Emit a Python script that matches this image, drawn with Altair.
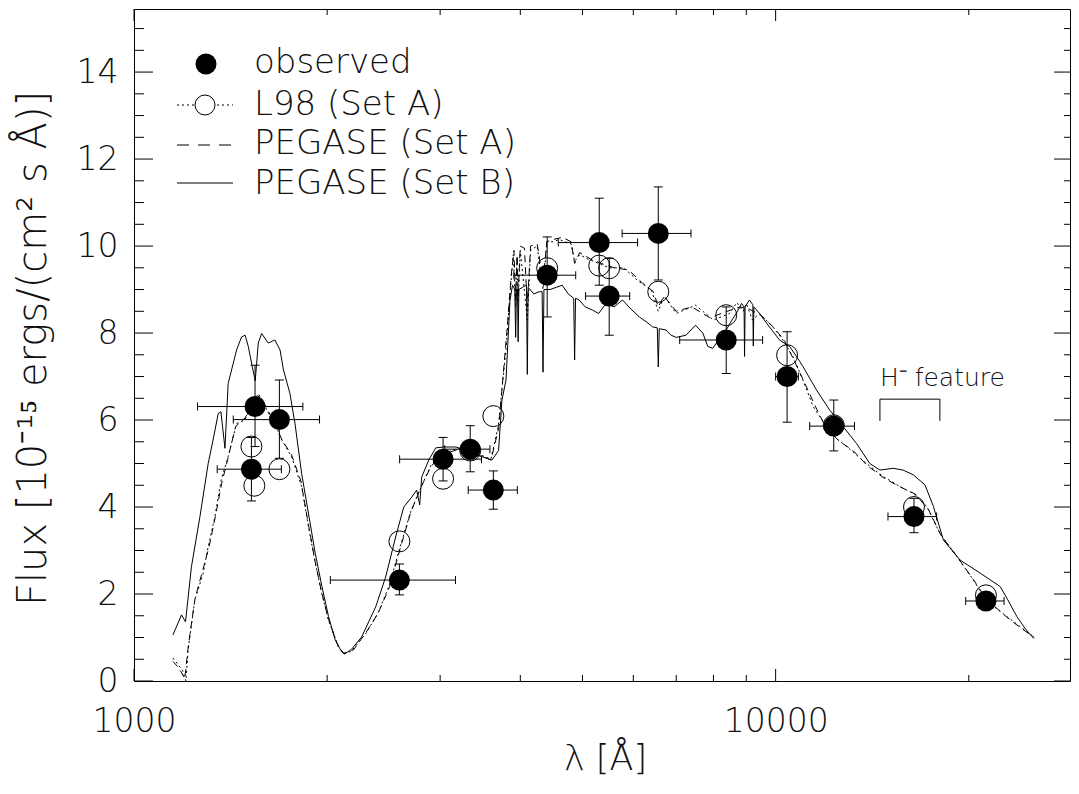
import altair as alt
import pandas as pd

# ---------------- data ----------------
# PEGASE (Set B) model spectrum (solid)
sb_wave = [1150, 1186, 1203, 1229, 1267, 1305, 1328, 1353, 1366, 1386,
           1402, 1445, 1471, 1490, 1507, 1530, 1545, 1562, 1581, 1619,
           1658, 1689, 1710, 1750, 1782, 1825, 1870, 1916, 1963, 2010,
           2059, 2107, 2127, 2180, 2263, 2380, 2467, 2557, 2633, 2710,
           2758, 2788, 2808, 2880, 2953, 3040, 3174, 3300, 3411, 3500,
           3613, 3700, 3745, 3800,
           3855, 3890, 3922, 3934, 3945, 3960, 3969, 3980, 4030, 4090,
           4102, 4114, 4200, 4280, 4326, 4340, 4354, 4450, 4550, 4650,
           4750, 4845, 4861, 4877, 4940, 5050, 5180, 5300, 5440, 5600,
           5773, 5950, 6131, 6300, 6433, 6540, 6563, 6586, 6747, 6870,
           7000, 7250, 7500, 7700, 7840, 7980, 8200, 8375, 8550, 8682,
           8850, 8930, 8945, 8962, 9100, 9215, 9230, 9248, 9440,
           9600, 9780, 9950, 10140, 10520,
           10900, 11030, 11580, 12140, 12740, 13370, 14020, 14540, 15250, 15800,
           16390, 17090, 17620, 18260, 19390, 20840, 22390, 22940, 23770, 24500,
           25240]
sb_flux = [1.06, 1.52, 1.36, 2.63, 3.78, 5.00, 5.54, 6.15, 6.19, 5.35,
           6.84, 7.61, 7.91, 7.95, 7.69, 7.20, 6.90, 7.77, 7.99, 7.77,
           7.84, 7.61, 7.15, 6.61, 5.92, 4.77, 3.86, 2.94, 2.17, 1.48,
           0.94, 0.67, 0.62, 0.72, 1.01, 1.70, 2.39, 3.31, 4.00, 4.23,
           4.39, 4.05, 4.69, 5.08, 5.36, 5.38, 5.38, 5.30, 5.20, 5.15,
           5.08, 5.30, 6.46, 6.92,
           8.76, 9.10, 9.00, 7.90, 9.00, 9.00, 7.80, 9.00, 9.05, 9.10,
           7.05, 9.05, 8.90, 8.95, 8.95, 7.10, 9.00, 9.00, 9.05, 9.10,
           8.90, 8.80, 7.38, 8.80, 8.76, 8.60, 8.53, 8.45, 8.68, 8.60,
           8.76, 8.55, 8.37, 8.25, 8.14, 8.12, 7.22, 8.10, 8.07, 7.95,
           7.90, 7.95, 8.18, 8.00, 7.69, 7.65, 7.90, 8.07, 8.30, 8.45,
           8.68, 8.60, 7.46, 8.60, 8.76, 8.65, 7.70, 8.60, 8.45,
           8.30, 8.14, 8.00, 7.84, 7.69,
           7.35, 7.23, 6.69, 6.23, 5.85, 5.46, 5.00, 4.85, 4.89, 4.85,
           4.74, 4.51, 4.01, 3.24, 2.78, 2.48, 2.17, 1.90, 1.48, 1.20,
           0.98]

# PEGASE (Set A) model spectrum (dashed)
pa_wave = [1150, 1175, 1200, 1215, 1245, 1280, 1310, 1340, 1370, 1400,
           1440, 1490, 1530, 1565, 1600, 1640, 1700, 1760, 1820, 1870,
           1915, 1960, 2010, 2080, 2125, 2200, 2300, 2400, 2500, 2600,
           2700, 2800, 2900, 3000, 3200, 3400, 3600, 3700, 3760, 3820,
           3870, 3910, 3934, 3955, 3969, 4000, 4060, 4102, 4150, 4250,
           4340, 4400, 4500, 4650, 4800, 4861, 4950, 5150, 5350, 5600,
           5900, 6200, 6450, 6563, 6700, 7000, 7400, 7900, 8400, 8800,
           9100, 9500, 9900, 10300, 10700, 11100, 11500, 12000, 12600, 13200,
           13900, 14800, 15700, 16500, 17300, 18100, 19200, 20400, 21300, 23000,
           24100, 25300]
pa_flux = [0.45, 0.30, 0.05, 0.80, 1.90, 2.55, 3.10, 3.80, 4.55, 5.10,
           5.85, 6.05, 6.35, 6.55, 6.35, 6.05, 5.55, 5.20, 4.60, 3.60,
           2.75, 2.05, 1.42, 0.80, 0.63, 0.72, 1.12, 1.55, 2.15, 3.05,
           3.88, 4.45, 4.92, 5.18, 5.33, 5.24, 5.08, 5.80, 7.00, 8.20,
           9.30, 9.90, 8.80, 9.80, 8.90, 10.00, 9.95, 8.60, 10.00, 10.05,
           9.20, 10.10, 10.15, 10.20, 10.10, 9.60, 9.85, 9.70, 9.60, 9.50,
           9.45, 9.15, 8.95, 8.60, 8.85, 8.50, 8.60, 8.35, 8.50, 8.60,
           8.55, 8.40, 8.15, 7.85, 7.35, 6.85, 6.35, 5.80, 5.50, 5.30,
           4.95, 4.65, 4.45, 4.30, 3.95, 3.35, 2.85, 2.30, 1.88, 1.45,
           1.22, 1.00]

# L98 (Set A) model spectrum (dotted)
l98_wave = [1150, 1190, 1205, 1214, 1244, 1282, 1305, 1337, 1367, 1402,
            1445, 1489, 1520, 1562, 1590, 1620, 1660, 1700, 1760, 1825,
            1870, 1917, 1961, 2009, 2083, 2121, 2180, 2300, 2400, 2500,
            2600, 2700, 2800, 2900, 3000, 3200, 3400, 3600, 3700, 3750,
            3800, 3850, 3900, 3934, 3950, 3969, 4000, 4102, 4150, 4250,
            4340, 4400, 4500, 4600, 4700, 4800, 4861, 4950, 5100, 5300,
            5500, 5800, 6100, 6400, 6563, 6700, 7000, 7500, 8000, 8475,
            8700, 8900, 9000, 9200, 9440, 9900, 10265, 10640, 11030, 11440,
            12000, 12500, 13000, 13850, 14720, 15620, 16390, 17200, 18030, 19160,
            20340, 21260, 22940, 24050, 25240]
l98_flux = [0.53, 0.25, 0.00, 0.71, 1.86, 2.48, 3.09, 3.78, 4.62, 5.16,
            5.92, 6.00, 6.30, 6.61, 6.40, 6.15, 5.90, 5.54, 5.16, 4.47,
            3.55, 2.71, 2.02, 1.40, 0.79, 0.64, 0.68, 1.10, 1.56, 2.20,
            3.10, 3.90, 4.45, 4.95, 5.20, 5.35, 5.25, 5.10, 5.90, 6.80,
            7.60, 8.80, 9.80, 8.60, 9.70, 8.70, 9.90, 8.30, 9.90, 10.00,
            9.00, 10.10, 10.10, 10.15, 10.10, 10.05, 9.65, 9.80, 9.70, 9.60,
            9.50, 9.50, 9.20, 9.00, 8.50, 8.85, 8.45, 8.64, 8.30, 8.45,
            8.70, 8.50, 8.68, 8.30, 8.45, 8.14, 7.84, 7.46, 6.92, 6.31,
            5.85, 5.55, 5.35, 5.00, 4.70, 4.47, 4.31, 4.01, 3.40, 2.86,
            2.32, 1.86, 1.48, 1.25, 1.02]

# observed photometry with error bars
obs_wave = [1544, 1685, 1524, 2592, 3032, 3342, 3631, 4405, 5310, 5503,
            6563, 8375, 10420, 12320, 16430, 21270]
obs_flux = [6.31, 6.01, 4.87, 2.32, 5.10, 5.33, 4.39, 9.33, 10.08, 8.85,
            10.29, 7.84, 7.00, 5.86, 3.78, 1.84]
obs_wave_lo = [1256, 1428, 1348, 2023, 2594, 3050, 3318, 3909, 4584, 5056,
               5764, 7087, 10000, 11300, 14965, 19780]
obs_wave_hi = [1833, 1946, 1697, 3170, 3480, 3587, 3958, 4880, 6094, 5923,
               7380, 9543, 10850, 13270, 17820, 22700]
obs_flux_lo = [5.39, 5.12, 4.14, 1.98, 4.60, 4.81, 3.95, 8.37, 9.10, 7.95,
               9.22, 7.07, 5.95, 5.29, 3.41, 1.74]
obs_flux_hi = [7.26, 6.92, 5.60, 2.69, 5.60, 5.87, 4.83, 10.21, 11.10, 9.72,
               11.36, 8.60, 8.03, 6.46, 4.20, 1.94]

# L98 (Set A) model photometry (open circles)
mod_wave = [1524, 1540, 1685, 2592, 3032, 3342, 3631, 4405, 5310, 5503,
            6563, 8375, 10420, 12320, 16430, 21270]
mod_flux = [5.39, 4.49, 4.87, 3.21, 4.65, 5.30, 6.09, 9.49, 9.55, 9.49,
            8.95, 8.41, 7.49, 5.88, 4.00, 1.97]

# H- feature bracket
bracket_wave = [14540, 14540, 18030, 18030]
bracket_flux = [5.98, 6.48, 6.48, 5.98]
annot_wave = [14540]
annot_flux = [6.78]
annot_text = ["H\u207b feature"]

# axes
x_domain = [1000, 28760]
y_domain = [0, 15.45]
x_major = [1000, 10000]
x_minor = [2000, 3000, 4000, 5000, 6000, 7000, 8000, 9000, 20000]
y_major = [0, 2, 4, 6, 8, 10, 12, 14]
y_minor = [0.5, 1, 1.5, 2.5, 3, 3.5, 4.5, 5, 5.5, 6.5, 7, 7.5, 8.5, 9, 9.5,
           10.5, 11, 11.5, 12.5, 13, 13.5, 14.5, 15]
x_title = "\u03bb [\u00c5]"
y_title = "Flux  [10\u207b\u00b9\u2075  ergs/(cm\u00b2  s  \u00c5)]"
legend_labels = ["observed", "L98 (Set A)", "PEGASE (Set A)", "PEGASE (Set B)"]

# ---------------- chart ----------------
W, H = 936, 672
FONT = "DejaVu Sans"
FW = 200
INK = "#111111"
FS = 33

xscale = alt.Scale(type="log", domain=x_domain, nice=False)
yscale = alt.Scale(domain=y_domain, nice=False, zero=False)

xaxis = alt.Axis(values=x_major, format="d", ticks=False, domain=False, grid=False,
                 labelFlush=False, labelPadding=24, labelFontSize=FS, labelFont=FONT,
                 labelFontWeight=FW, labelColor=INK, title=x_title, titleFont=FONT,
                 titleFontSize=35, titleFontWeight=FW, titleColor=INK,
                 titleX=471, titleY=77, titleBaseline="middle", titleAlign="center")
yaxis = alt.Axis(values=y_major, ticks=False, domain=False, grid=False,
                 labelFlush=False, labelPadding=16, labelFontSize=FS, labelFont=FONT,
                 labelFontWeight=FW, labelColor=INK, title=y_title, titleFont=FONT,
                 titleFontSize=40, titleFontWeight=FW, titleColor=INK,
                 titleX=-101, titleY=339, titleAngle=270, titleBaseline="middle",
                 titleAlign="center")


def X(f):
    return alt.X(f"{f}:Q", scale=xscale, axis=xaxis)


def Y(f):
    return alt.Y(f"{f}:Q", scale=yscale, axis=yaxis)


def curve(wave, flux, dash=None):
    df = pd.DataFrame({"wave": wave, "flux": flux, "i": range(len(wave))})
    kw = dict(color="black", strokeWidth=1, clip=True)
    if dash:
        kw["strokeDash"] = dash
    return alt.Chart(df).mark_line(**kw).encode(x=X("wave"), y=Y("flux"), order="i:Q")


layers = []

# inward ticks (IDL style)
ymaj = pd.DataFrame({"flux": y_major})
ymin = pd.DataFrame({"flux": y_minor})
xmaj = pd.DataFrame({"wave": x_major})
xmin = pd.DataFrame({"wave": x_minor})
rule = dict(color="black", strokeWidth=1)
layers += [
    alt.Chart(ymaj).mark_rule(**rule).encode(y=Y("flux"), x=alt.value(0), x2=alt.value(19)),
    alt.Chart(ymin).mark_rule(**rule).encode(y=Y("flux"), x=alt.value(0), x2=alt.value(10)),
    alt.Chart(ymaj).mark_rule(**rule).encode(y=Y("flux"), x=alt.value(W - 16), x2=alt.value(W)),
    alt.Chart(ymin).mark_rule(**rule).encode(y=Y("flux"), x=alt.value(W - 6), x2=alt.value(W)),
    alt.Chart(xmaj).mark_rule(**rule).encode(x=X("wave"), y=alt.value(H - 12), y2=alt.value(H)),
    alt.Chart(xmin).mark_rule(**rule).encode(x=X("wave"), y=alt.value(H - 6), y2=alt.value(H)),
    alt.Chart(xmaj).mark_rule(**rule).encode(x=X("wave"), y=alt.value(0), y2=alt.value(12)),
    alt.Chart(xmin).mark_rule(**rule).encode(x=X("wave"), y=alt.value(0), y2=alt.value(6)),
]

# model spectra
layers += [
    curve(l98_wave, l98_flux, [2, 3]),
    curve(pa_wave, pa_flux, [7, 5]),
    curve(sb_wave, sb_flux),
]

# L98 open circles
mod_df = pd.DataFrame({"wave": mod_wave, "flux": mod_flux})
layers.append(alt.Chart(mod_df).mark_point(shape="circle", filled=False, size=441,
                                           color="black", strokeWidth=1, opacity=1)
              .encode(x=X("wave"), y=Y("flux")))

# error bars
obs_df = pd.DataFrame({"wave": obs_wave, "flux": obs_flux, "wlo": obs_wave_lo,
                       "whi": obs_wave_hi, "flo": obs_flux_lo, "fhi": obs_flux_hi})
layers.append(alt.Chart(obs_df).mark_rule(**rule).encode(x=X("wlo"), x2="whi:Q", y=Y("flux")))
layers.append(alt.Chart(obs_df).mark_rule(**rule).encode(x=X("wave"), y=Y("flo"), y2="fhi:Q"))
xcap = pd.DataFrame({"wave": obs_wave_lo + obs_wave_hi, "flux": obs_flux + obs_flux})
ycap = pd.DataFrame({"wave": obs_wave + obs_wave, "flux": obs_flux_lo + obs_flux_hi})
layers.append(alt.Chart(xcap).mark_tick(orient="vertical", size=8, thickness=1, color="black",
                                        opacity=1).encode(x=X("wave"), y=Y("flux")))
layers.append(alt.Chart(ycap).mark_tick(orient="horizontal", size=9, thickness=1, color="black",
                                        opacity=1).encode(x=X("wave"), y=Y("flux")))

# observed filled circles
layers.append(alt.Chart(obs_df).mark_point(shape="circle", filled=True, size=441,
                                           color="black", opacity=1)
              .encode(x=X("wave"), y=Y("flux")))

# H- feature annotation
br_df = pd.DataFrame({"wave": bracket_wave, "flux": bracket_flux, "i": range(4)})
layers.append(alt.Chart(br_df).mark_line(color="black", strokeWidth=1)
              .encode(x=X("wave"), y=Y("flux"), order="i:Q"))
an_df = pd.DataFrame({"wave": annot_wave, "flux": annot_flux, "t": annot_text})
layers.append(alt.Chart(an_df).mark_text(align="left", baseline="alphabetic", font=FONT,
                                         fontSize=25, fontWeight=FW, color=INK)
              .encode(x=X("wave"), y=Y("flux"), text="t:N"))

# legend (inside plot, top-left)
one = pd.DataFrame({"k": [0]})
LFS = 34
txt = dict(align="left", baseline="alphabetic", font=FONT, fontSize=LFS, fontWeight=FW, color=INK)
rows_y = [64, 106, 145, 185]
sym_y = [55, 96, 136, 174]
layers += [
    alt.Chart(one).mark_point(shape="circle", filled=True, size=441, color="black", opacity=1)
    .encode(x=alt.value(72), y=alt.value(sym_y[0])),
    alt.Chart(one).mark_rule(color="black", strokeWidth=1, strokeDash=[2, 3])
    .encode(x=alt.value(43), x2=alt.value(99), y=alt.value(sym_y[1])),
    alt.Chart(one).mark_point(shape="circle", filled=True, size=400, color="white", opacity=1)
    .encode(x=alt.value(71), y=alt.value(sym_y[1])),
    alt.Chart(one).mark_point(shape="circle", filled=False, size=400, color="black", strokeWidth=1, opacity=1)
    .encode(x=alt.value(71), y=alt.value(sym_y[1])),
    alt.Chart(one).mark_rule(color="black", strokeWidth=1, strokeDash=[12, 9])
    .encode(x=alt.value(43), x2=alt.value(99), y=alt.value(sym_y[2])),
    alt.Chart(one).mark_rule(color="black", strokeWidth=1)
    .encode(x=alt.value(43), x2=alt.value(99), y=alt.value(sym_y[3])),
]
for lab, yy in zip(legend_labels, rows_y):
    layers.append(alt.Chart(one).mark_text(text=lab, **txt)
                  .encode(x=alt.value(120), y=alt.value(yy)))

chart = (alt.layer(*layers)
         .properties(width=W, height=H,
                     padding={"left": 126, "top": 1, "right": 1, "bottom": 97},
                     autosize=alt.AutoSizeParams(type="none"),
                     background="white")
         .configure_view(stroke="black", strokeWidth=1))

chart.save("out.html", embed_options={"renderer": "svg", "actions": False})
